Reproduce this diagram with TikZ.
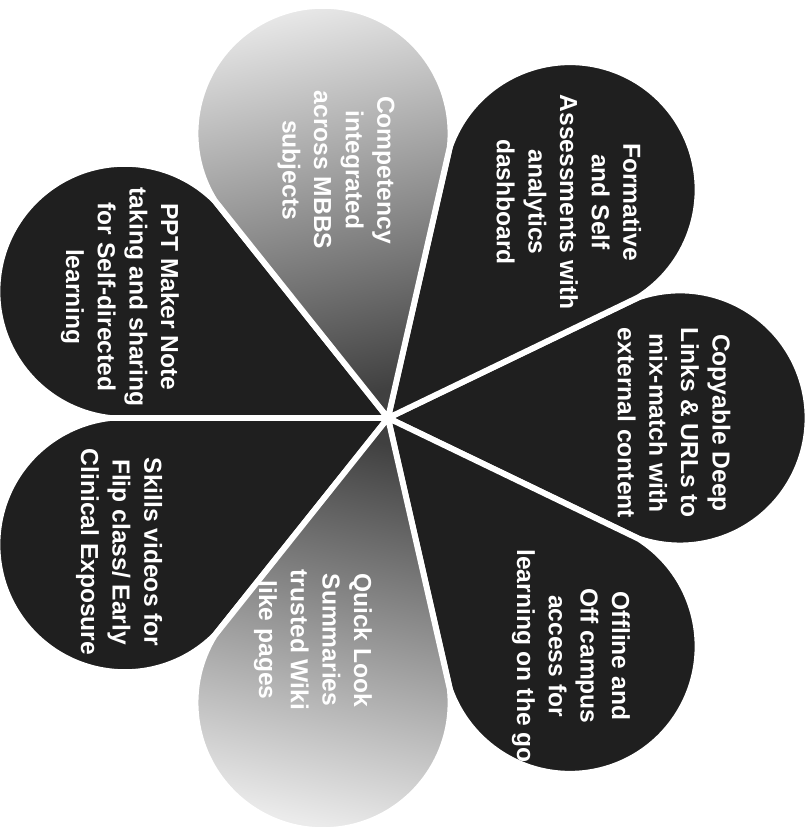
\documentclass[tikz,border=0pt]{standalone}
\usepackage{fontspec}
\setmainfont{Liberation Sans}
\begin{document}
\begin{tikzpicture}[x=0.03cm,y=0.03cm,
  petaldark/.style={fill=black!88, draw=white, line width=5pt, line join=round},
  petallight/.style={draw=white, line width=5pt, line join=round, top color=black!8, middle color=black!28, bottom color=black!75},
  lbl/.style={text=white, font=\bfseries\fontsize{21}{27}\selectfont, align=center, rotate=-90, inner sep=0pt}]
\useasboundingbox (0,0) rectangle (811,827);
\coordinate (c) at (388,409);
% dark petals
\foreach \a in {0,51.43,154.29,205.71,308.57}{
  \begin{scope}[shift={(c)}, rotate=\a]
    \path[petaldark] (0,0) -- (25.7:278) arc[start angle=109, end angle=-109, radius=127.5] -- cycle;
  \end{scope}
}
% light petals
\begin{scope}[shift={(c)}, rotate=102.86]
  \path[petallight, shading angle=12.86] (0,0) -- (25.7:278) arc[start angle=109, end angle=-109, radius=127.5] -- cycle;
\end{scope}
\begin{scope}[shift={(c)}, rotate=257.14]
  \path[petallight, shading angle=167.14] (0,0) -- (25.7:278) arc[start angle=109, end angle=-109, radius=127.5] -- cycle;
\end{scope}
% labels
\node[lbl] (form) at (569,625) {Formative\\and Self\\Assessments with\\analytics\\dashboard};
\node[lbl] (copy) at (674,404) {Copyable Deep\\Links \& URLs to\\mix-match with\\external content};
\node[lbl] (off) at (571,171) {Offline and\\Off campus\\access for\\learning on the go};
\node[lbl] (ppt) at (120,530) {PPT Maker Note\\taking and sharing\\for Self-directed\\learning};
\node[lbl] (skill) at (119,275) {Skills videos for\\Flip class/ Early\\Clinical Exposure};
\node[lbl] (comp) at (336,657) {Competency\\integrated\\across MBBS\\subjects};
\node[lbl] (quick) at (313,187) {Quick Look\\Summaries\\trusted Wiki\\like pages};
\end{tikzpicture}
\end{document}
